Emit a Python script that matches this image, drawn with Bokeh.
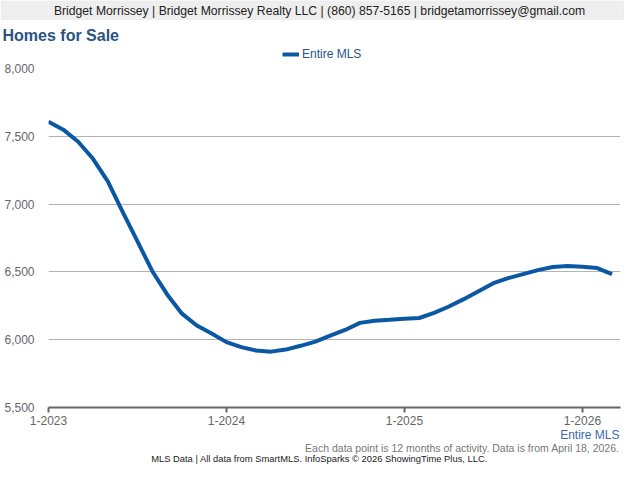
from bokeh.plotting import figure
from bokeh.layouts import column
from bokeh.models import Label, Legend, LegendItem, FixedTicker, Range1d, NumeralTickFormatter, Title
from bokeh.embed import file_html
from bokeh.resources import INLINE

# ---- data ----
months = ["2023-01","2023-02","2023-03","2023-04","2023-05","2023-06","2023-07","2023-08","2023-09","2023-10","2023-11","2023-12",
          "2024-01","2024-02","2024-03","2024-04","2024-05","2024-06","2024-07","2024-08","2024-09","2024-10","2024-11","2024-12",
          "2025-01","2025-02","2025-03","2025-04","2025-05","2025-06","2025-07","2025-08","2025-09","2025-10","2025-11","2025-12",
          "2026-01","2026-02","2026-03"]
entire_mls = [7608, 7549, 7460, 7334, 7168, 6942, 6725, 6505, 6334, 6192, 6105, 6045,
              5982, 5945, 5920, 5912, 5927, 5955, 5986, 6030, 6072, 6124, 6140, 6147,
              6155, 6160, 6198, 6245, 6299, 6358, 6417, 6454, 6484, 6513, 6536, 6543,
              6538, 6528, 6484]
x_idx = list(range(len(months)))
tick_pos = [0, 12, 24, 36]
tick_labels = ["1-2023", "1-2024", "1-2025", "1-2026"]
y_ticks = [5500, 6000, 6500, 7000, 7500, 8000]

FONT = "Liberation Sans"
LINE = "#0a58a3"
W = 624
FL, FR = 48, 620   # frame left/right (shared by all stacked figures)
H_HEAD, H_TBAND, H_MAIN = 20, 41, 366
H_FOOT = 464 - H_HEAD - H_TBAND - H_MAIN


def text_fig(h, bg="white", top=0):
    f = figure(width=W, height=h, output_backend="svg", toolbar_location=None,
               x_range=Range1d(FL, FR), y_range=Range1d(h, 0),
               x_axis_location=None, y_axis_location=None,
               min_border_left=FL, min_border_right=W - FR, min_border_top=top, min_border_bottom=0)
    f.outline_line_color = None
    f.grid.visible = False
    f.background_fill_color = bg
    f.border_fill_color = bg
    return f


def lab(f, text, x, y, size, color, align="left", style="normal"):
    f.add_layout(Label(x=x, y=y, text=text, text_font=FONT, text_font_size=size,
                       text_color=color, text_align=align, text_baseline="middle",
                       text_font_style=style))


# header band
header = text_fig(H_HEAD, bg="#eeeeee")
lab(header, "Bridget Morrissey | Bridget Morrissey Realty LLC | (860) 857-5165 | bridgetamorrissey@gmail.com",
    319, 10, "12.2px", "#222222", align="center")

# title + legend band
tband = text_fig(H_TBAND, top=23)
tband.add_layout(Title(text="Homes for Sale", align="left", offset=-46, standoff=0,
                       text_font=FONT, text_font_size="16px", text_font_style="bold",
                       text_color="#2b5384"), "above")
# the legend's renderer holds the series, which lies outside this band's ranges
leg_r = tband.line(x_idx, entire_mls, line_color=LINE, line_width=4)
legend = Legend(items=[LegendItem(label="Entire MLS", renderers=[leg_r])],
                location=(234, 0), orientation="horizontal",
                border_line_color=None, background_fill_alpha=0,
                padding=0, margin=0, spacing=0,
                glyph_width=17, glyph_height=14, label_height=14,
                label_standoff=3, label_text_font=FONT, label_text_font_size="12px",
                label_text_color="#2b5384")
tband.add_layout(legend, "center")

# main chart
p = figure(width=W, height=H_MAIN, output_backend="svg", toolbar_location=None,
           x_range=Range1d(0, 38.57), y_range=Range1d(5500, 8000),
           min_border_left=FL, min_border_right=W - FR, min_border_top=7, min_border_bottom=0)
p.outline_line_color = None

p.line(x_idx, entire_mls, line_color=LINE, line_width=4)

p.yaxis.ticker = FixedTicker(ticks=y_ticks)
p.yaxis.formatter = NumeralTickFormatter(format="0,0")
p.yaxis.axis_line_color = None
p.yaxis.major_tick_line_color = None
p.yaxis.minor_tick_line_color = None
p.yaxis.major_label_standoff = 8
p.yaxis.major_label_text_font = FONT
p.yaxis.major_label_text_font_size = "12px"
p.yaxis.major_label_text_color = "#666666"

p.xaxis.ticker = FixedTicker(ticks=tick_pos)
p.xaxis.major_label_overrides = {t: l for t, l in zip(tick_pos, tick_labels)}
p.xaxis.axis_line_color = "#666666"
p.xaxis.axis_line_width = 2
p.xaxis.major_tick_line_color = "#666666"
p.xaxis.major_tick_line_width = 2
p.xaxis.major_tick_out = 5
p.xaxis.major_tick_in = 0
p.xaxis.minor_tick_line_color = None
p.xaxis.major_label_standoff = 3
p.xaxis.major_label_text_font = FONT
p.xaxis.major_label_text_font_size = "12px"
p.xaxis.major_label_text_color = "#666666"

p.xgrid.grid_line_color = None
p.ygrid.ticker = FixedTicker(ticks=y_ticks)
p.ygrid.grid_line_color = "#b3b3b3"
p.ygrid.grid_line_width = 1

# footer band
footer = text_fig(H_FOOT)
lab(footer, "Entire MLS", 619, 7, "12px", "#3b6ba8", align="right")
lab(footer, "Each data point is 12 months of activity. Data is from April 18, 2026.",
    619, 20, "10.5px", "#777777", align="right")
lab(footer, "MLS Data | All data from SmartMLS. InfoSparks \u00a9 2026 ShowingTime Plus, LLC.",
    319, 31, "9.4px", "#222222", align="center")

layout = column(header, tband, p, footer, spacing=0)
open("out.html", "w").write(file_html(layout, INLINE))
